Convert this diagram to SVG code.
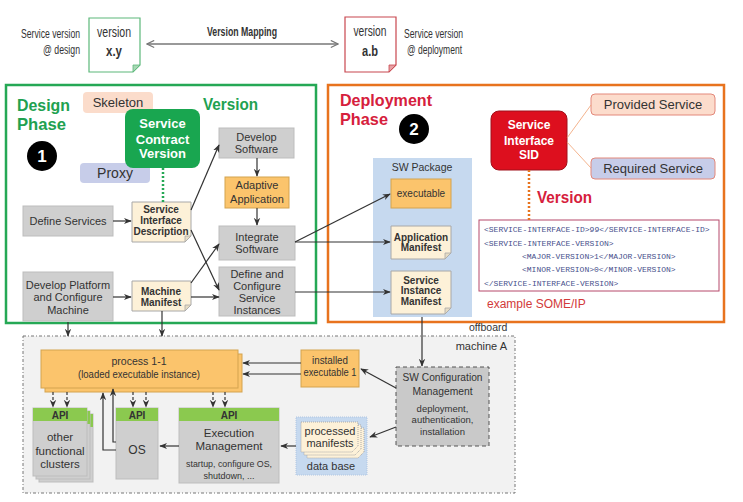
<svg xmlns="http://www.w3.org/2000/svg" width="743" height="502" viewBox="0 0 743 502">
<defs>
<style>
text{font-family:"Liberation Sans",Arial,sans-serif;fill:#333}
.c{text-anchor:middle}
.b{font-weight:bold}
.grey{fill:#cfcfcf;stroke:#bdbdbd;stroke-width:1}
.orange{fill:#fbc46c;stroke:#d4a34f;stroke-width:1}
.note{fill:#fdf1d8;stroke:#a8a8a8;stroke-width:1}
.fold{fill:#e6dcc4;stroke:#a8a8a8;stroke-width:0.8}
.api{fill:#8bc94f}
.ln{fill:none;stroke:#333;stroke-width:1.2;marker-end:url(#ah)}
.dl{fill:none;stroke:#333;stroke-width:1.2;stroke-dasharray:3 2;marker-end:url(#ah)}
.mono{font-family:"Liberation Mono","DejaVu Sans Mono",monospace;font-size:8px;fill:#47508c}
.red{fill:#d6203c}
.grn{fill:#21a150}
</style>
<marker id="ah" viewBox="0 0 10 10" refX="9" refY="5" markerWidth="8" markerHeight="8" markerUnits="userSpaceOnUse" orient="auto-start-reverse"><path d="M0,1 L10,5 L0,9 L3,5 Z" fill="#333"/></marker>
<marker id="ch" viewBox="0 0 10 10" refX="9" refY="5" markerWidth="9" markerHeight="9" markerUnits="userSpaceOnUse" orient="auto-start-reverse"><path d="M1,1 L9,5 L1,9" fill="none" stroke="#777" stroke-width="1.3"/></marker>
</defs>
<rect width="743" height="502" fill="#fff"/>

<!-- top -->
<g id="versionDesign">
<text x="80" y="38" font-size="12" text-anchor="end" textLength="59" lengthAdjust="spacingAndGlyphs">Service version</text>
<text x="80" y="54" font-size="12" text-anchor="end" textLength="37" lengthAdjust="spacingAndGlyphs">@ design</text>
<path d="M89,18 H140 V65 L133,72 H89 Z" fill="#fff" stroke="#5cb87a" stroke-width="1.2"/>
<path d="M140,65 L133,65 L133,72 Z" fill="#a8d8b4" stroke="#5cb87a" stroke-width="0.8"/>
<text x="114" y="37" font-size="14" class="c" textLength="34" lengthAdjust="spacingAndGlyphs">version</text>
<text x="114" y="56" font-size="15" class="c b" textLength="16" lengthAdjust="spacingAndGlyphs">x.y</text>
</g>
<g id="versionDeploy">
<path d="M345,17 H396 V65 L389,72 H345 Z" fill="#fff" stroke="#c8474f" stroke-width="1.2"/>
<path d="M396,65 L389,65 L389,72 Z" fill="#e8a0a4" stroke="#c8474f" stroke-width="0.8"/>
<text x="370" y="36" font-size="14" class="c" textLength="33" lengthAdjust="spacingAndGlyphs">version</text>
<text x="370" y="56" font-size="15" class="c b" textLength="16" lengthAdjust="spacingAndGlyphs">a.b</text>
<text x="404" y="38" font-size="12" textLength="59" lengthAdjust="spacingAndGlyphs">Service version</text>
<text x="407" y="54" font-size="12" textLength="55" lengthAdjust="spacingAndGlyphs">@ deployment</text>
</g>
<g id="versionMapping">
<line x1="147" y1="44" x2="338" y2="44" stroke="#777" stroke-width="1.3" marker-start="url(#ch)" marker-end="url(#ch)"/>
<text x="242" y="36" font-size="12.5" class="c b" textLength="70" lengthAdjust="spacingAndGlyphs">Version Mapping</text>
</g>

<!-- phases -->
<g id="designPhase">
<rect x="6" y="85" width="310" height="238" fill="none" stroke="#25a855" stroke-width="2.5"/>
<text x="17" y="111" font-size="17" class="b grn" textLength="53" lengthAdjust="spacingAndGlyphs">Design</text>
<text x="17" y="130" font-size="17" class="b grn" textLength="49" lengthAdjust="spacingAndGlyphs">Phase</text>
<text x="203" y="110" font-size="16" class="b grn" textLength="55" lengthAdjust="spacingAndGlyphs">Version</text>
<circle cx="42" cy="156" r="15" fill="#000"/>
<text x="42" y="162" font-size="17" class="c b" style="fill:#fff">1</text>
</g>
<g id="deploymentPhase">
<rect x="328" y="85" width="396" height="237" fill="none" stroke="#e8731e" stroke-width="2.5"/>
<text x="340" y="106" font-size="17" class="b red" textLength="92" lengthAdjust="spacingAndGlyphs">Deployment</text>
<text x="340" y="125" font-size="17" class="b red" textLength="48" lengthAdjust="spacingAndGlyphs">Phase</text>
<circle cx="414" cy="129" r="15" fill="#000"/>
<text x="414" y="135" font-size="17" class="c b" style="fill:#fff">2</text>
<text x="537" y="203" font-size="16" class="b red" textLength="55" lengthAdjust="spacingAndGlyphs">Version</text>
<text x="487" y="308" font-size="12" style="fill:#d23a3a">example SOME/IP</text>
</g>

<g id="skeleton">
<rect x="83" y="92" width="70" height="21" rx="4" fill="#fbdccb"/>
<text x="118" y="107" font-size="13" class="c">Skeleton</text>
</g>
<g id="proxy">
<rect x="80" y="163" width="70" height="20" rx="4" fill="#c7cde9"/>
<text x="115" y="178" font-size="14" class="c">Proxy</text>
</g>
<g id="serviceContractVersion">
<rect x="125" y="109" width="75" height="59" rx="8" fill="#19a650"/>
<text x="162.5" y="128" font-size="13" class="c b" style="fill:#fff">Service</text>
<text x="162.5" y="143.5" font-size="13" class="c b" style="fill:#fff">Contract</text>
<text x="162.5" y="158" font-size="13" class="c b" style="fill:#fff">Version</text>
</g>
<g id="defineServices">
<rect x="23" y="206" width="90" height="30" class="grey"/>
<text x="68" y="225" font-size="11" class="c">Define Services</text>
</g>
<g id="serviceInterfaceDescription">
<path d="M132,202 H191 V236 L185,242 H132 Z" class="note"/>
<path d="M191,236 L185,236 L185,242 Z" class="fold"/>
<text x="161" y="213" font-size="10" class="c b">Service</text>
<text x="161" y="224" font-size="10" class="c b">Interface</text>
<text x="161" y="235" font-size="10" class="c b">Description</text>
</g>
<g id="developSoftware">
<rect x="219" y="128" width="75" height="30" class="grey"/>
<text x="256.5" y="141" font-size="11" class="c">Develop</text>
<text x="256.5" y="153" font-size="11" class="c">Software</text>
</g>
<g id="adaptiveApplication">
<rect x="225" y="177" width="64" height="31" class="orange"/>
<text x="257" y="189" font-size="11" class="c">Adaptive</text>
<text x="257" y="203" font-size="11" class="c">Application</text>
</g>
<g id="integrateSoftware">
<rect x="219" y="226" width="76" height="34" class="grey"/>
<text x="257" y="241" font-size="11" class="c">Integrate</text>
<text x="257" y="253" font-size="11" class="c">Software</text>
</g>
<g id="defineConfigure">
<rect x="219" y="267" width="76" height="49" class="grey"/>
<text x="257" y="278" font-size="11" class="c">Define and</text>
<text x="257" y="290" font-size="11" class="c">Configure</text>
<text x="257" y="302" font-size="11" class="c">Service</text>
<text x="257" y="314" font-size="11" class="c">Instances</text>
</g>
<g id="developPlatform">
<rect x="23" y="272" width="90" height="49" class="grey"/>
<text x="68" y="289" font-size="11" class="c">Develop Platform</text>
<text x="68" y="301" font-size="11" class="c">and Configure</text>
<text x="68" y="314" font-size="11" class="c">Machine</text>
</g>
<g id="machineManifest">
<path d="M132,281 H191 V305 L185,311 H132 Z" class="note"/>
<path d="M191,305 L185,305 L185,311 Z" class="fold"/>
<text x="161" y="295" font-size="10" class="c b">Machine</text>
<text x="161" y="306" font-size="10" class="c b">Manifest</text>
</g>

<g id="swPackage">
<rect x="373" y="158" width="99" height="159" fill="#c6d9ef"/>
<text x="422" y="170.5" font-size="10.5" class="c">SW Package</text>
</g>
<g id="executable">
<rect x="391" y="179" width="60" height="29" class="orange"/>
<text x="421" y="197" font-size="10" class="c">executable</text>
</g>
<g id="applicationManifest">
<path d="M391,226 H451 V253 L445,259 H391 Z" class="note"/>
<path d="M451,253 L445,253 L445,259 Z" class="fold"/>
<text x="421" y="240.5" font-size="10" class="c b">Application</text>
<text x="421" y="251" font-size="10" class="c b">Manifest</text>
</g>
<g id="serviceInstanceManifest">
<path d="M391,271 H451 V308 L445,314 H391 Z" class="note"/>
<path d="M451,308 L445,308 L445,314 Z" class="fold"/>
<text x="421" y="283.5" font-size="10" class="c b">Service</text>
<text x="421" y="294" font-size="10" class="c b">Instance</text>
<text x="421" y="304.5" font-size="10" class="c b">Manifest</text>
</g>
<g id="serviceInterfaceSID">
<rect x="491" y="111" width="76" height="59" rx="8" fill="#dd0f1e" stroke="#a0101a"/>
<text x="529" y="129" font-size="12" class="c b" style="fill:#fff">Service</text>
<text x="529" y="145" font-size="12" class="c b" style="fill:#fff">Interface</text>
<text x="529" y="159" font-size="12" class="c b" style="fill:#fff">SID</text>
</g>
<g id="providedService">
<rect x="591" y="94" width="124" height="21" rx="4" fill="#fcdccc" stroke="#e3887a"/>
<text x="653" y="109" font-size="13" class="c">Provided Service</text>
</g>
<g id="requiredService">
<rect x="591" y="158" width="124" height="21" rx="4" fill="#c7cde9" stroke="#e3887a"/>
<text x="653" y="173" font-size="13" class="c">Required Service</text>
</g>
<g id="xmlExample">
<rect x="479" y="220" width="240" height="71" fill="#fff" stroke="#b6486a"/>
<text x="484" y="232" class="mono">&lt;SERVICE-INTERFACE-ID&gt;99&lt;/SERVICE-INTERFACE-ID&gt;</text>
<text x="484" y="245.5" class="mono">&lt;SERVICE-INTERFACE-VERSION&gt;</text>
<text x="522" y="259" class="mono">&lt;MAJOR-VERSION&gt;1&lt;/MAJOR-VERSION&gt;</text>
<text x="522" y="272" class="mono">&lt;MINOR-VERSION&gt;0&lt;/MINOR-VERSION&gt;</text>
<text x="484" y="285.5" class="mono">&lt;/SERVICE-INTERFACE-VERSION&gt;</text>
</g>

<!-- machine A -->
<g id="machineA">
<rect x="23" y="336" width="492" height="157" fill="#f2f2f2" stroke="#777" stroke-width="1" stroke-dasharray="3 2 1 2"/>
<text x="507" y="350" font-size="11" text-anchor="end">machine A</text>
<text x="469" y="331" font-size="10.5">offboard</text>
</g>
<g id="process">
<rect x="45" y="354" width="197" height="38" class="orange"/>
<rect x="41" y="350" width="197" height="38" class="orange"/>
<text x="139" y="365" font-size="11" class="c" textLength="55" lengthAdjust="spacingAndGlyphs">process 1-1</text>
<text x="139" y="378" font-size="11" class="c" textLength="122" lengthAdjust="spacingAndGlyphs">(loaded executable instance)</text>
</g>
<g id="installedExecutable">
<rect x="301" y="350" width="58" height="37" class="orange"/>
<text x="330" y="364" font-size="10.5" class="c" textLength="36" lengthAdjust="spacingAndGlyphs">installed</text>
<text x="330" y="376" font-size="10.5" class="c" textLength="53" lengthAdjust="spacingAndGlyphs">executable 1</text>
</g>
<g id="swConfigManagement">
<rect x="396" y="367" width="93" height="79" fill="#c9c9c9" stroke="#555" stroke-dasharray="4 3"/>
<text x="442.5" y="381" font-size="11.5" class="c" textLength="80" lengthAdjust="spacingAndGlyphs">SW Configuration</text>
<text x="442.5" y="395" font-size="11.5" class="c" textLength="60" lengthAdjust="spacingAndGlyphs">Management</text>
<text x="442.5" y="411.5" font-size="9.5" class="c">deployment,</text>
<text x="442.5" y="422.5" font-size="9.5" class="c">authentication,</text>
<text x="442.5" y="434.5" font-size="9.5" class="c">installation</text>
</g>
<g id="dataBase">
<rect x="296" y="417" width="71" height="58" fill="#c6d9ef" stroke="#b0c6e2" stroke-dasharray="1 1"/>
<path d="M307,428 H364 V452 L358,458 H307 Z" fill="#fdf1d8" stroke="#aaa" stroke-dasharray="1 1"/>
<path d="M304,425 H361 V449 L355,455 H304 Z" fill="#fdf1d8" stroke="#aaa" stroke-dasharray="1 1"/>
<path d="M301,422 H358 V446 L352,452 H301 Z" fill="#fdf1d8" stroke="#aaa" stroke-dasharray="1 1"/>
<text x="330" y="435" font-size="11" class="c">processed</text>
<text x="330" y="447" font-size="11" class="c">manifests</text>
<text x="331" y="470" font-size="11" class="c">data base</text>
</g>
<g id="executionManagement">
<rect x="179" y="408" width="100" height="75" class="grey"/>
<rect x="179" y="408" width="100" height="13" class="api"/>
<text x="229" y="418.5" font-size="10" class="c b">API</text>
<text x="229" y="437" font-size="11.5" class="c">Execution</text>
<text x="229" y="450" font-size="11.5" class="c">Management</text>
<text x="229" y="466.5" font-size="9" class="c" textLength="86" lengthAdjust="spacingAndGlyphs">startup, configure OS,</text>
<text x="229" y="478.5" font-size="9" class="c">shutdown, ...</text>
</g>
<g id="os">
<rect x="116" y="408" width="42" height="71" class="grey"/>
<rect x="116" y="408" width="42" height="13" class="api"/>
<text x="137" y="418.5" font-size="10" class="c b">API</text>
<text x="137" y="454" font-size="12" class="c">OS</text>
</g>
<g id="otherClusters">
<rect x="39" y="414" width="54" height="68" class="grey"/>
<rect x="39" y="414" width="54" height="13" class="api"/>
<rect x="36" y="411" width="54" height="68" class="grey"/>
<rect x="36" y="411" width="54" height="13" class="api"/>
<rect x="33" y="408" width="54" height="68" class="grey"/>
<rect x="33" y="408" width="54" height="13" class="api"/>
<text x="60" y="418.5" font-size="10" class="c b">API</text>
<text x="60" y="441" font-size="11.5" class="c">other</text>
<text x="60" y="455" font-size="11.5" class="c">functional</text>
<text x="60" y="468" font-size="11.5" class="c">clusters</text>
</g>

<g id="connectors">
<line x1="163" y1="168" x2="163" y2="202" stroke="#25a855" stroke-width="2.5" stroke-dasharray="2 2"/>
<line x1="529" y1="170" x2="529" y2="220" stroke="#e8731e" stroke-width="2.5" stroke-dasharray="2 2"/>
<line x1="567" y1="138" x2="591" y2="105" stroke="#f0a070" stroke-width="0.8"/>
<line x1="567" y1="142" x2="591" y2="168" stroke="#f0a070" stroke-width="0.8"/>
<line x1="113" y1="221" x2="131" y2="221" class="ln"/>
<line x1="113" y1="297" x2="131" y2="297" class="ln"/>
<line x1="257" y1="158" x2="257" y2="176" class="ln"/>
<line x1="257" y1="208" x2="257" y2="225" class="ln"/>
<line x1="191" y1="210" x2="219" y2="145" class="ln"/>
<line x1="191" y1="230" x2="219" y2="290" class="ln"/>
<line x1="191" y1="283" x2="219" y2="244" class="ln"/>
<line x1="191" y1="297" x2="219" y2="297" class="ln"/>
<line x1="295" y1="242" x2="390" y2="194" class="ln"/>
<line x1="295" y1="242" x2="390" y2="242" class="ln"/>
<line x1="295" y1="292" x2="390" y2="292" class="ln"/>
<line x1="68" y1="322" x2="68" y2="336" class="ln"/>
<line x1="162" y1="311" x2="162" y2="336" class="ln"/>
<line x1="422" y1="317" x2="422" y2="366" class="ln"/>
<line x1="301" y1="363" x2="243" y2="363" class="ln"/>
<line x1="301" y1="374" x2="243" y2="374" class="ln"/>
<line x1="396" y1="388" x2="361" y2="369" class="ln"/>
<line x1="396" y1="427" x2="370" y2="437" class="ln"/>
<line x1="296" y1="446" x2="281" y2="446" class="ln"/>
<line x1="179" y1="446" x2="160" y2="446" class="ln"/>
<path d="M116,442 H113 V389" class="ln"/>
<path d="M116,450 H103 V393" class="ln"/>
<line x1="53" y1="392" x2="53" y2="407" class="dl"/>
<line x1="67" y1="392" x2="67" y2="407" class="dl"/>
<line x1="133" y1="392" x2="133" y2="407" class="dl"/>
<line x1="146" y1="392" x2="146" y2="407" class="dl"/>
<line x1="213" y1="392" x2="213" y2="407" class="dl"/>
<line x1="225" y1="392" x2="225" y2="407" class="dl"/>
</g>
</svg>
